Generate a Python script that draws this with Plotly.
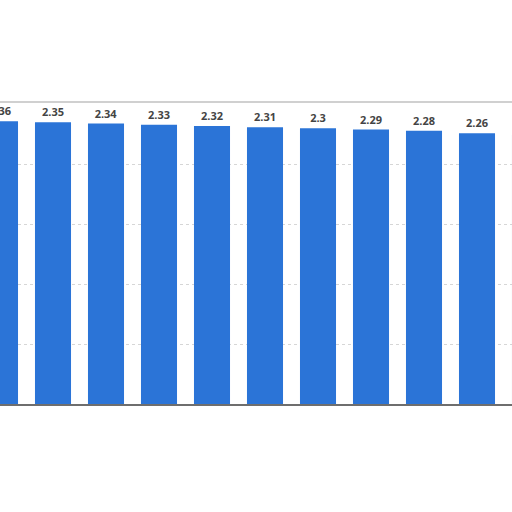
import plotly.graph_objects as go

# values, left to right (last one is cut off at the right edge)
categories = ["c1", "c2", "c3", "c4", "c5", "c6", "c7", "c8", "c9", "c10", "c11"]
values = [2.36, 2.35, 2.34, 2.33, 2.32, 2.31, 2.3, 2.29, 2.28, 2.26, 2.25]
labels = ["2.36", "2.35", "2.34", "2.33", "2.32", "2.31", "2.3", "2.29", "2.28", "2.26", ""]
grid_vals = [0.5, 1.0, 1.5, 2.0]

fig = go.Figure(go.Bar(
    x=categories,
    y=values,
    text=labels,
    textposition="outside",
    cliponaxis=False,
    textfont=dict(family="Open Sans", size=11, color="#444444", weight="bold"),
    marker=dict(color="#2b74d7", line=dict(width=0)),
    hoverinfo="skip",
))

fig.update_layout(
    width=512, height=512,
    margin=dict(l=0, r=0, t=102, b=108, pad=0),
    paper_bgcolor="white",
    plot_bgcolor="white",
    bargap=0.32,
    showlegend=False,
    shapes=[dict(type="line", xref="paper", yref="paper", x0=0, x1=1, y0=1, y1=1,
                 line=dict(color="#d0d0d0", width=2))],
)
fig.update_xaxes(range=[0, 512 / 53], showticklabels=False, ticks="",
                 showline=True, linecolor="#6e6e6e", linewidth=2,
                 showgrid=False, zeroline=False)
fig.update_yaxes(range=[0, 2.52], tickvals=grid_vals, showticklabels=False, ticks="",
                 showgrid=True, gridcolor="#d6d6d6", griddash="dot", gridwidth=1,
                 zeroline=False)

# drop the default page margin so the chart sits flush at the top-left corner
fig.write_html("out.html", config={"displayModeBar": False},
               post_script="document.body.style.margin='0';")
